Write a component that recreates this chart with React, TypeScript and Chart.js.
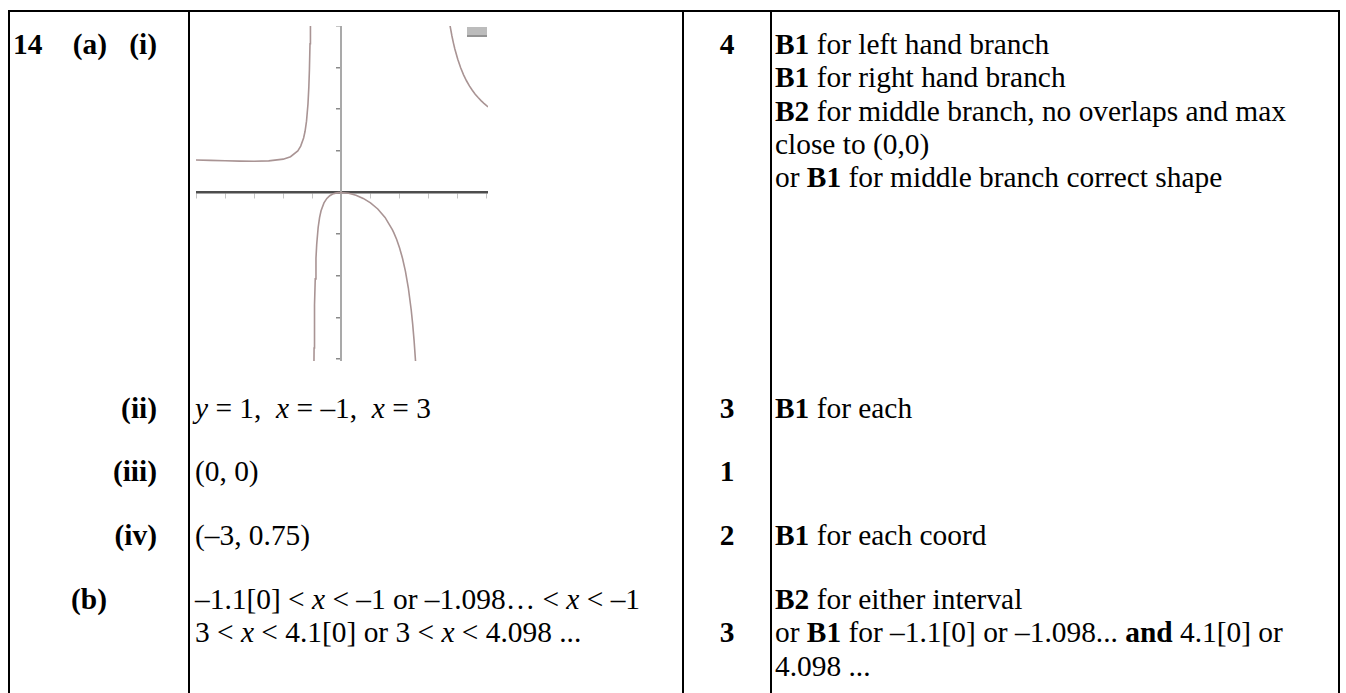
import React, { useEffect, useRef } from 'react';
import { Chart, registerables } from 'chart.js';

Chart.register(...registerables);

const leftBranchX = [-5, -4.5, -4, -3.5, -3, -2.5, -2, -1.75, -1.5, -1.4, -1.3, -1.25, -1.2, -1.15, -1.12, -1.1, -1.08, -1.07, -1.06];
const leftBranchY = [0.781, 0.771, 0.762, 0.754, 0.75, 0.758, 0.8, 0.86, 1.0, 1.114, 1.31, 1.471, 1.714, 2.124, 2.537, 2.951, 3.574, 4.019, 4.612];

const middleBranchX = [-0.95, -0.94, -0.93, -0.92, -0.9, -0.875, -0.85, -0.8, -0.75, -0.7, -0.6, -0.5, -0.4, -0.3, -0.2, -0.1, 0, 0.25, 0.5, 0.75, 1, 1.25, 1.5, 1.75, 1.8, 1.9, 2, 2.1, 2.2, 2.3, 2.4, 2.45, 2.5, 2.55, 2.6];
const middleBranchY = [-4.57, -3.738, -3.144, -2.699, -2.077, -1.581, -1.251, -0.842, -0.6, -0.441, -0.25, -0.143, -0.078, -0.039, -0.016, -0.004, 0, -0.018, -0.067, -0.143, -0.25, -0.397, -0.6, -0.891, -0.964, -1.132, -1.333, -1.581, -1.891, -2.29, -2.824, -3.163, -3.571, -4.07, -4.694];

const rightBranchX = [3.7, 3.72, 3.75, 3.8, 3.85, 3.9, 4, 4.1, 4.2, 4.3, 4.4, 4.5, 4.6, 4.7, 4.8, 4.9, 5, 5.05];
const rightBranchY = [4.161, 4.072, 3.947, 3.76, 3.596, 3.449, 3.2, 2.996, 2.827, 2.684, 2.561, 2.455, 2.362, 2.28, 2.207, 2.142, 2.083, 2.056];

const xRange = [-5, 5.04];
const yRange = [-4.05, 4];
const tickStep = 1;

const CURVE = '#a99494';

const toPoints = (xs: number[], ys: number[]) => xs.map((x, i) => ({ x, y: ys[i] }));

const swatchPlugin = {
  id: 'swatch',
  afterDraw(chart: any) {
    const { ctx, chartArea } = chart;
    ctx.save();
    ctx.fillStyle = '#bcbcbc';
    ctx.fillRect(chartArea.right - 21, chartArea.top + 1, 20, 8);
    ctx.fillStyle = '#939393';
    ctx.fillRect(chartArea.right - 21, chartArea.top + 9, 20, 2);
    ctx.restore();
  },
};

function Graph() {
  const ref = useRef<HTMLCanvasElement | null>(null);
  useEffect(() => {
    if (!ref.current) return;
    const line = (xs: number[], ys: number[]) => ({
      data: toPoints(xs, ys),
      showLine: true,
      borderColor: CURVE,
      backgroundColor: CURVE,
      borderWidth: 1.6,
      pointRadius: 0,
      tension: 0,
    });
    const chart = new Chart(ref.current, {
      type: 'scatter',
      data: {
        datasets: [
          line(leftBranchX, leftBranchY),
          line(middleBranchX, middleBranchY),
          line(rightBranchX, rightBranchY),
        ],
      },
      options: {
        animation: false,
        responsive: false,
        maintainAspectRatio: false,
        layout: { padding: 0 },
        plugins: { legend: { display: false }, tooltip: { enabled: false } },
        scales: {
          x: {
            type: 'linear',
            min: xRange[0],
            max: xRange[1],
            position: { y: 0 } as any,
            ticks: { display: false, stepSize: tickStep, includeBounds: false },
            grid: { drawOnChartArea: false, drawTicks: true, tickLength: 5, color: '#c4c4c4', lineWidth: 1 },
            border: { display: true, color: '#4d4d4d', width: 2.5 },
          },
          y: {
            type: 'linear',
            min: yRange[0],
            max: yRange[1],
            position: { x: 0 } as any,
            ticks: { display: false, stepSize: tickStep, includeBounds: false },
            grid: { drawOnChartArea: false, drawTicks: true, tickLength: 4, color: '#8a8a8a', lineWidth: 1.5 },
            border: { display: true, color: '#a9a9a9', width: 2 },
          },
        },
      },
      plugins: [swatchPlugin],
    } as any);
    return () => chart.destroy();
  }, []);
  return (
    <canvas
      ref={ref}
      width={292}
      height={335}
      style={{ position: 'absolute', left: 196, top: 26, width: 292, height: 335 }}
    />
  );
}

const FONT = "'Liberation Serif', 'Times New Roman', Times, serif";

const abs = (left: number, top: number, extra: React.CSSProperties = {}): React.CSSProperties => ({
  position: 'absolute',
  left,
  top,
  whiteSpace: 'pre',
  ...extra,
});

const vline = (x: number) => (
  <div key={x} style={{ position: 'absolute', left: x, top: 10, width: 2, height: 700, background: '#000' }} />
);

export default function App() {
  const B = (t: string) => <b>{t}</b>;
  const I = (t: string) => <i>{t}</i>;
  const rightAt = (right: number, top: number, text: string) => (
    <div style={abs(right - 120, top, { width: 120, textAlign: 'right', fontWeight: 'bold' })}>{text}</div>
  );
  const mark = (top: number, text: string) => (
    <div style={abs(684, top, { width: 86, textAlign: 'center', fontWeight: 'bold' })}>{text}</div>
  );
  return (
    <div
      style={{
        position: 'absolute',
        left: 0,
        top: 0,
        width: 1346,
        height: 693,
        overflow: 'hidden',
        background: '#fff',
        color: '#000',
        fontFamily: FONT,
        fontSize: 29.4,
        lineHeight: '33.3px',
      }}
    >
      {/* table frame */}
      <div style={{ position: 'absolute', left: 8, top: 10, width: 1332, height: 2, background: '#000' }} />
      {[8, 188, 682, 770, 1338].map(vline)}

      {/* column 1 labels */}
      <div style={abs(13, 28, { fontWeight: 'bold' })}>14</div>
      {rightAt(107, 28, '(a)')}
      {rightAt(157, 28, '(i)')}
      {rightAt(157, 392, '(ii)')}
      {rightAt(157, 455, '(iii)')}
      {rightAt(157, 519, '(iv)')}
      {rightAt(107, 583, '(b)')}

      {/* column 2 answers */}
      <Graph />
      <div style={abs(195, 392)}>{I('y')} = 1,  {I('x')} = –1,  {I('x')} = 3</div>
      <div style={abs(195, 455)}>(0, 0)</div>
      <div style={abs(195, 519)}>(–3, 0.75)</div>
      <div style={abs(195, 583)}>
        –1.1[0] &lt; {I('x')} &lt; –1 or –1.098… &lt; {I('x')} &lt; –1
        {'\n'}3 &lt; {I('x')} &lt; 4.1[0] or 3 &lt; {I('x')} &lt; 4.098 ...
      </div>

      {/* column 3 marks */}
      {mark(28, '4')}
      {mark(392, '3')}
      {mark(455, '1')}
      {mark(519, '2')}
      {mark(616, '3')}

      {/* column 4 guidance */}
      <div style={abs(775, 28)}>
        {B('B1')} for left hand branch{'\n'}
        {B('B1')} for right hand branch{'\n'}
        {B('B2')} for middle branch, no overlaps and max{'\n'}
        close to (0,0){'\n'}
        or {B('B1')} for middle branch correct shape
      </div>
      <div style={abs(775, 392)}>{B('B1')} for each</div>
      <div style={abs(775, 519)}>{B('B1')} for each coord</div>
      <div style={abs(775, 583)}>
        {B('B2')} for either interval{'\n'}
        or {B('B1')} for –1.1[0] or –1.098... {B('and')} 4.1[0] or{'\n'}
        4.098 ...
      </div>
    </div>
  );
}
